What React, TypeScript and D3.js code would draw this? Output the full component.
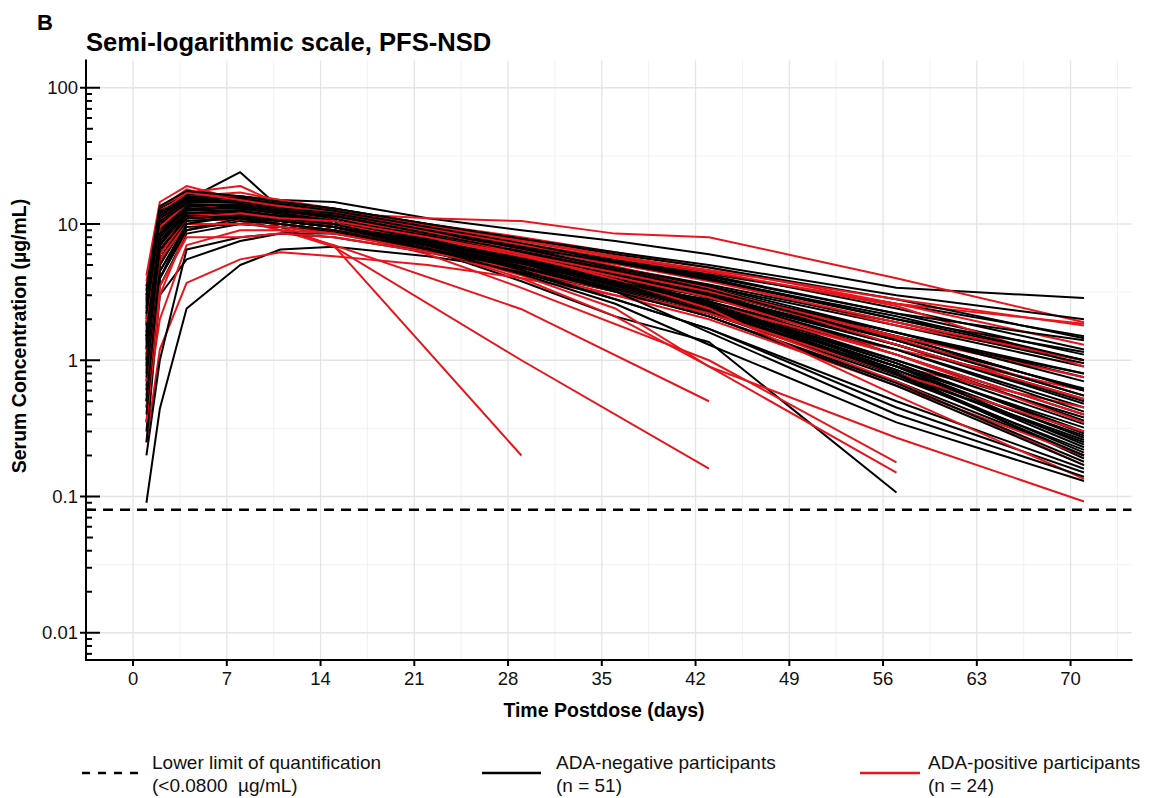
import React, { useEffect, useRef } from 'react';
import * as d3 from 'd3';

// sampling days (postdose)
const days = [1, 2, 4, 8, 11, 15, 22, 29, 36, 43, 57, 71];

// ADA-negative participants (n = 51), µg/mL at each sampling day
const adaNegative: (number | null)[][] = [
  [0.09, 0.44, 2.4, 5.0, 6.5, 6.8, 5.8, 4.6, 3.6, 2.8, 1.5, 0.8],
  [2.8, 9.5, 15, 24, 13, 12, 9.5, 7.2, 5.5, 4.2, 2.2, 1.1],
  [1.5, 8, 17, 16, 15, 14.5, 11, 9, 7.5, 6.0, 3.4, 2.86],
  [1.2, 6, 11, 12, 11, 9.5, 6.5, 3.8, 2.1, 1.36, 0.107, null],
  [0.6, 5, 12, 14, 13, 12, 9, 7, 5.5, 4.3, 2.6, 1.5],
  [2.2, 10, 14, 13, 12, 11, 8.5, 6.5, 4.8, 3.5, 1.8, 0.9],
  [0.35, 4, 10, 12, 11.5, 10.5, 8, 6, 4.5, 3.3, 1.6, 0.75],
  [1.8, 9, 15, 15, 13.5, 12, 9.5, 7.5, 5.8, 4.5, 2.4, 1.2],
  [3.2, 12, 16, 14, 13, 11.5, 8.5, 6.2, 4.5, 3.2, 1.4, 0.55],
  [0.8, 6, 13, 12.5, 11, 10, 7.5, 5.5, 4, 2.9, 1.2, 0.45],
  [1.1, 7, 12, 11, 10, 9, 7, 5.2, 3.9, 2.9, 1.3, 0.5],
  [2.5, 11, 17, 15, 14, 12.5, 9, 6.5, 4.6, 3.3, 1.5, 0.6],
  [0.5, 4.5, 9.5, 10, 9.5, 8.5, 6.5, 4.8, 3.5, 2.5, 1.0, 0.38],
  [1.6, 8.5, 14, 13, 12, 10.5, 7.8, 5.6, 3.9, 2.7, 1.1, 0.4],
  [0.25, 3, 5.5, 7.5, 8.5, 8.5, 6.8, 5.2, 4, 3.1, 1.6, 0.8],
  [2.0, 9.5, 13, 12, 11.5, 10, 7.2, 5.0, 3.4, 2.3, 0.85, 0.28],
  [1.3, 7.5, 12.5, 13.5, 12, 11, 8.2, 6.0, 4.2, 3.0, 1.3, 0.52],
  [0.7, 5.5, 11, 11.5, 10.5, 9.5, 7, 5, 3.5, 2.4, 0.9, 0.32],
  [2.6, 12, 15, 16, 14.5, 13, 10, 7.8, 6.0, 4.8, 2.8, 1.45],
  [0.45, 4, 9, 10.5, 10, 9, 6.8, 4.9, 3.4, 2.3, 0.8, 0.25],
  [1.9, 10, 15.5, 14, 12.5, 11, 8, 5.8, 4.0, 2.7, 1.0, 0.34],
  [1.0, 6.5, 12, 12, 11, 10, 7.6, 5.6, 4.1, 3.0, 1.4, 0.62],
  [3.5, 13, 16.5, 15, 13.5, 12, 8.8, 6.3, 4.4, 3.0, 1.1, 0.36],
  [0.55, 5, 10.5, 11, 10, 9, 6.6, 4.7, 3.3, 2.2, 0.75, 0.22],
  [1.4, 8, 13.5, 13, 12, 11, 8.5, 6.4, 4.8, 3.6, 1.9, 0.95],
  [2.3, 11, 14.5, 13.5, 12.5, 11, 8.2, 6.0, 4.3, 3.1, 1.3, 0.48],
  [0.3, 3.5, 8.5, 10, 9.5, 8.8, 6.5, 4.6, 3.2, 2.1, 0.7, 0.2],
  [1.7, 9, 14, 14.5, 13, 12, 9.2, 7.0, 5.3, 4.0, 2.0, 1.0],
  [2.9, 12.5, 15, 14, 12.5, 11, 8, 5.7, 3.9, 2.6, 0.95, 0.3],
  [0.9, 6, 11.5, 12.5, 11.5, 10.5, 7.8, 5.6, 3.9, 2.6, 0.85, 0.23],
  [1.2, 7, 13, 12, 11, 10, 7.4, 5.4, 3.8, 2.6, 0.95, 0.29],
  [0.4, 4, 9, 11, 10.5, 9.5, 7.2, 5.3, 3.8, 2.7, 1.2, 0.42],
  [2.1, 10, 16, 14, 13, 11.5, 8.6, 6.4, 4.7, 3.4, 1.5, 0.6],
  [1.5, 8, 12.5, 11.5, 10.5, 9.5, 7.0, 5.1, 3.6, 2.5, 0.9, 0.27],
  [0.65, 5.5, 11, 12, 11, 10, 7.5, 5.4, 3.7, 2.5, 0.82, 0.19],
  [2.4, 11.5, 15, 13.5, 12.5, 11.5, 8.8, 6.7, 5.1, 3.9, 2.0, 1.15],
  [1.05, 7, 12, 12.5, 11, 10, 7.1, 4.9, 3.3, 2.1, 0.65, 0.17],
  [0.2, 1.0, 6.5, 8, 8.5, 8, 6.2, 4.5, 3.2, 2.2, 0.8, 0.26],
  [1.8, 9.5, 14.5, 13, 12, 10.5, 7.5, 5.2, 3.5, 2.3, 0.78, 0.2],
  [3.0, 12, 16, 15.5, 14, 12.5, 9.5, 7.2, 5.4, 4.1, 2.2, 1.4],
  [0.75, 6, 11.5, 11, 10, 9, 6.5, 4.4, 2.8, 1.7, 0.5, 0.16],
  [1.35, 8, 13, 13, 12, 10.5, 7.6, 5.3, 3.6, 2.4, 0.8, 0.21],
  [2.7, 12, 15.5, 14.5, 13, 12, 9, 6.6, 4.8, 3.5, 1.6, 0.7],
  [0.5, 4.5, 10, 11.5, 10.5, 9.5, 6.9, 4.8, 3.2, 2.1, 0.68, 0.18],
  [1.6, 8.5, 13, 12, 11, 10, 7.0, 4.6, 2.8, 1.7, 0.45, 0.15],
  [2.2, 10.5, 14, 13.5, 12.5, 11, 7.8, 5.2, 3.2, 1.6, 0.4, 0.14],
  [0.85, 6, 12, 12.5, 11.5, 10.5, 7.7, 5.5, 3.8, 2.6, 0.9, 0.24],
  [1.25, 7.5, 12.5, 13.5, 12.5, 11.5, 8.5, 6.3, 4.6, 3.3, 1.4, 0.55],
  [3.3, 13.5, 17.5, 16, 14.5, 13, 10, 7.8, 6.2, 5.0, 3.0, 2.0],
  [0.95, 6.5, 11, 11.5, 10.5, 9.5, 6.6, 4.3, 2.6, 1.3, 0.35, 0.13],
  [1.45, 8, 13.5, 14, 13, 12, 9, 6.8, 5.2, 3.9, 2.1, 1.0],
];

// ADA-positive participants (n = 24); null = no sample
const adaPositive: (number | null)[][] = [
  [2.0, 10, 15, 12, 9.5, 6.9, null, 0.2, null, null, null, null],
  [4.2, 14.5, 19, 15, 13, 12, 11, 10.5, 8.5, 8.0, 4.0, 1.9],
  [0.6, 5, 11, 13, 12, 11, 9, 7.2, 5.6, 4.4, 2.6, 1.85],
  [1.0, 7, 12, 11, 9, 6.8, null, 1.0, null, 0.16, null, null],
  [1.8, 9, 16, 17, 15, 13, 10, 8, 6.2, 4.8, 2.6, 1.3],
  [0.25, 1.2, 3.7, 5.5, 6.2, 5.8, 5.0, 4.0, 3.0, 2.3, 1.2, 0.6],
  [0.8, 5, 11, 10.5, 9, 7.0, null, 2.37, null, 0.5, null, null],
  [3.0, 13, 18, 14, 12.5, 11.5, 9, 7, 5.2, 3.9, 1.8, 1.0],
  [1.2, 7.5, 13, 12, 11, 10, 7.5, 5.4, 3.7, 2.5, 0.9, 0.45],
  [0.9, 6, 12, 11.5, 10, 9, 6, 3.4, null, 1.0, 0.178, null],
  [2.4, 11, 15, 13.5, 12.5, 11.5, 9.5, 7.5, 5.8, 4.5, 2.5, 0.9],
  [0.45, 2, 7, 9, 9, 8.5, 6.8, 5.0, 3.6, 2.6, 1.1, 0.35],
  [1.5, 8, 13, 12.5, 11, 9.5, 6.5, 4.0, 2.1, 0.9, 0.15, null],
  [3.5, 12.5, 16, 16, 14, 12.5, 9.8, 7.6, 5.8, 4.6, 2.8, 1.8],
  [0.35, 3, 9, 11, 10.5, 9.5, 7.2, 5.2, 3.5, 2.3, 0.7, 0.17],
  [1.1, 6.5, 12, 11.5, 10, 9, 6.5, 4.2, 2.4, 0.9, 0.27, 0.092],
  [2.2, 10.5, 14, 13, 12, 11, 8.5, 6.4, 4.6, 3.3, 1.5, 0.75],
  [0.7, 5.5, 10, 10, 9.5, 8.5, 6.3, 4.5, 3.0, 2.0, 0.65, 0.2],
  [2.8, 12, 17, 19, 14, 12.5, 9.6, 7.0, 4.9, 3.4, 1.3, 0.52],
  [1.4, 8, 12.5, 12, 11, 10, 7.8, 5.8, 4.1, 2.9, 1.1, 0.4],
  [0.5, 3.5, 8, 8, 8.5, 8, 6.2, 4.6, 3.2, 2.2, 0.8, 0.3],
  [1.9, 9.5, 14, 14, 13, 12, 9.2, 7.0, 5.1, 3.8, 1.9, 1.0],
  [3.8, 13.5, 17, 15, 13.5, 12, 8.8, 6.0, 3.9, 2.4, 0.55, 0.135],
  [1.0, 6, 11, 12, 11, 10.5, 8, 6, 4.4, 3.2, 1.45, 0.55],
];

const lloq = 0.08;
const xTicks = [0, 7, 14, 21, 28, 35, 42, 49, 56, 63, 70];
const yTicks = [0.01, 0.1, 1, 10, 100];
const yTickLabels = ['0.01', '0.1', '1', '10', '100'];
const legendLabels = [
  ['Lower limit of quantification', '(<0.0800  µg/mL)'],
  ['ADA-negative participants', '(n = 51)'],
  ['ADA-positive participants', '(n = 24)'],
];

const RED = '#e8161c';
const FONT = '"Liberation Sans", Arial, Helvetica, sans-serif';

export default function App() {
  const ref = useRef<SVGSVGElement>(null);

  useEffect(() => {
    const svg = d3.select(ref.current);
    svg.selectAll('*').remove();

    const left = 86;
    const top = 60.5;
    const bottom = 660;

    const x = d3.scaleLinear().domain([-3.55, 74.55]).range([85.5, 1131.5]);
    const y = d3
      .scaleLog()
      .domain([Math.pow(10, -2.2), Math.pow(10, 2.2)])
      .range([bottom, top]);
    const [x0, x1] = x.range();

    const g = svg.append('g');

    // minor gridlines (half steps)
    const xMinor = d3.range(-3.5, 74.6, 7);
    const yMinor = [-1.5, -0.5, 0.5, 1.5].map(e => Math.pow(10, e));
    g.selectAll('line.xminor')
      .data(xMinor)
      .join('line')
      .attr('x1', d => x(d))
      .attr('x2', d => x(d))
      .attr('y1', top)
      .attr('y2', bottom)
      .attr('stroke', '#efefef')
      .attr('stroke-width', 0.9);
    g.selectAll('line.yminor')
      .data(yMinor)
      .join('line')
      .attr('x1', x0)
      .attr('x2', x1)
      .attr('y1', d => y(d))
      .attr('y2', d => y(d))
      .attr('stroke', '#efefef')
      .attr('stroke-width', 0.9);

    // major gridlines
    g.append('g')
      .selectAll('line')
      .data(xTicks)
      .join('line')
      .attr('x1', d => x(d))
      .attr('x2', d => x(d))
      .attr('y1', top)
      .attr('y2', bottom)
      .attr('stroke', '#e4e4e4')
      .attr('stroke-width', 1.3);
    g.append('g')
      .selectAll('line')
      .data(yTicks)
      .join('line')
      .attr('x1', x0)
      .attr('x2', x1)
      .attr('y1', d => y(d))
      .attr('y2', d => y(d))
      .attr('stroke', '#e4e4e4')
      .attr('stroke-width', 1.3);

    // participant profiles, interleaved in drawing order
    const line = d3
      .line<[number, number]>()
      .x(d => x(d[0]))
      .y(d => y(d[1]));
    const toPoints = (vals: (number | null)[]) =>
      days
        .map((d, i) => [d, vals[i]] as [number, number | null])
        .filter(p => p[1] != null) as [number, number][];

    const profiles: { pts: [number, number][]; color: string }[] = [];
    for (let k = 0; k < 26; k++) {
      if (adaNegative[2 * k]) profiles.push({ pts: toPoints(adaNegative[2 * k]), color: '#000' });
      if (adaPositive[k]) profiles.push({ pts: toPoints(adaPositive[k]), color: RED });
      if (adaNegative[2 * k + 1]) profiles.push({ pts: toPoints(adaNegative[2 * k + 1]), color: '#000' });
    }
    g.append('g')
      .selectAll('path')
      .data(profiles)
      .join('path')
      .attr('d', d => line(d.pts))
      .attr('fill', 'none')
      .attr('stroke', d => d.color)
      .attr('stroke-width', 2)
      .attr('stroke-linejoin', 'round');

    // LLOQ
    g.append('line')
      .attr('x1', left)
      .attr('x2', x1)
      .attr('y1', y(lloq))
      .attr('y2', y(lloq))
      .attr('stroke', '#000')
      .attr('stroke-width', 2.5)
      .attr('stroke-dasharray', '10,7');

    // axes
    g.append('path')
      .attr('d', `M${left},${top}V${bottom}H${x1}`)
      .attr('fill', 'none')
      .attr('stroke', '#000')
      .attr('stroke-width', 2)
      .attr('stroke-linecap', 'square');

    // y ticks: majors cross the axis, minors point inward
    g.append('g')
      .selectAll('line')
      .data(yTicks)
      .join('line')
      .attr('x1', left - 6)
      .attr('x2', left + 14)
      .attr('y1', d => y(d))
      .attr('y2', d => y(d))
      .attr('stroke', '#000')
      .attr('stroke-width', 2);
    const yMinorTicks: { v: number; k: number }[] = [];
    [-3, -2, -1, 0, 1, 2].forEach(e => {
      for (let k = 2; k <= 9; k++) {
        const v = k * Math.pow(10, e);
        if (y(v) <= bottom - 1 && y(v) >= top) yMinorTicks.push({ v, k });
      }
    });
    g.append('g')
      .selectAll('line')
      .data(yMinorTicks)
      .join('line')
      .attr('x1', left)
      .attr('x2', d => left + (d.k === 5 ? 7 : 6))
      .attr('y1', d => y(d.v))
      .attr('y2', d => y(d.v))
      .attr('stroke', '#000')
      .attr('stroke-width', 2);
    g.append('g')
      .selectAll('text')
      .data(yTicks)
      .join('text')
      .attr('x', 78)
      .attr('y', d => y(d))
      .attr('dy', '0.36em')
      .attr('text-anchor', 'end')
      .attr('font-family', FONT)
      .attr('font-size', 18.5)
      .attr('fill', '#111')
      .text((d, i) => yTickLabels[i]);

    // x ticks
    g.append('g')
      .selectAll('line')
      .data(xTicks)
      .join('line')
      .attr('x1', d => x(d))
      .attr('x2', d => x(d))
      .attr('y1', bottom)
      .attr('y2', bottom + 6)
      .attr('stroke', '#000')
      .attr('stroke-width', 2);
    g.append('g')
      .selectAll('text')
      .data(xTicks)
      .join('text')
      .attr('x', d => x(d))
      .attr('y', 685)
      .attr('text-anchor', 'middle')
      .attr('font-family', FONT)
      .attr('font-size', 18.5)
      .attr('fill', '#111')
      .text(d => String(d));

    // axis titles
    g.append('text')
      .attr('x', 604)
      .attr('y', 717)
      .attr('text-anchor', 'middle')
      .attr('font-family', FONT)
      .attr('font-size', 19.5)
      .attr('font-weight', 'bold')
      .text('Time Postdose (days)');
    g.append('text')
      .attr('transform', 'translate(26,336) rotate(-90)')
      .attr('text-anchor', 'middle')
      .attr('font-family', FONT)
      .attr('font-size', 19.5)
      .attr('font-weight', 'bold')
      .text('Serum Concentration (µg/mL)');

    // titles
    g.append('text')
      .attr('x', 37)
      .attr('y', 30)
      .attr('font-family', FONT)
      .attr('font-size', 22)
      .attr('font-weight', 'bold')
      .text('B');
    g.append('text')
      .attr('x', 86)
      .attr('y', 51)
      .attr('font-family', FONT)
      .attr('font-size', 25.6)
      .attr('font-weight', 'bold')
      .text('Semi-logarithmic scale, PFS-NSD');

    // legend
    const legendX = [
      { sx: 82, ex: 140, tx: 152 },
      { sx: 482, ex: 541, tx: 556 },
      { sx: 860, ex: 920, tx: 928 },
    ];
    const legendStroke = [
      { color: '#000', dash: '8,8', w: 2.5 },
      { color: '#000', dash: null, w: 2.5 },
      { color: RED, dash: null, w: 2.5 },
    ];
    const leg = g.append('g');
    legendLabels.forEach((lbl, i) => {
      const p = legendX[i];
      const s = legendStroke[i];
      leg.append('line')
        .attr('x1', p.sx)
        .attr('x2', p.ex)
        .attr('y1', 773)
        .attr('y2', 773)
        .attr('stroke', s.color)
        .attr('stroke-width', s.w)
        .attr('stroke-dasharray', s.dash);
      lbl.forEach((t, j) => {
        leg.append('text')
          .attr('x', p.tx)
          .attr('y', 769 + j * 23)
          .attr('font-family', FONT)
          .attr('font-size', 19)
          .attr('fill', '#111')
          .style('white-space', 'pre')
          .text(t);
      });
    });
  }, []);

  return (
    <svg
      ref={ref}
      width={1154}
      height={798}
      style={{ position: 'absolute', left: 0, top: 0, background: '#fff' }}
    />
  );
}
